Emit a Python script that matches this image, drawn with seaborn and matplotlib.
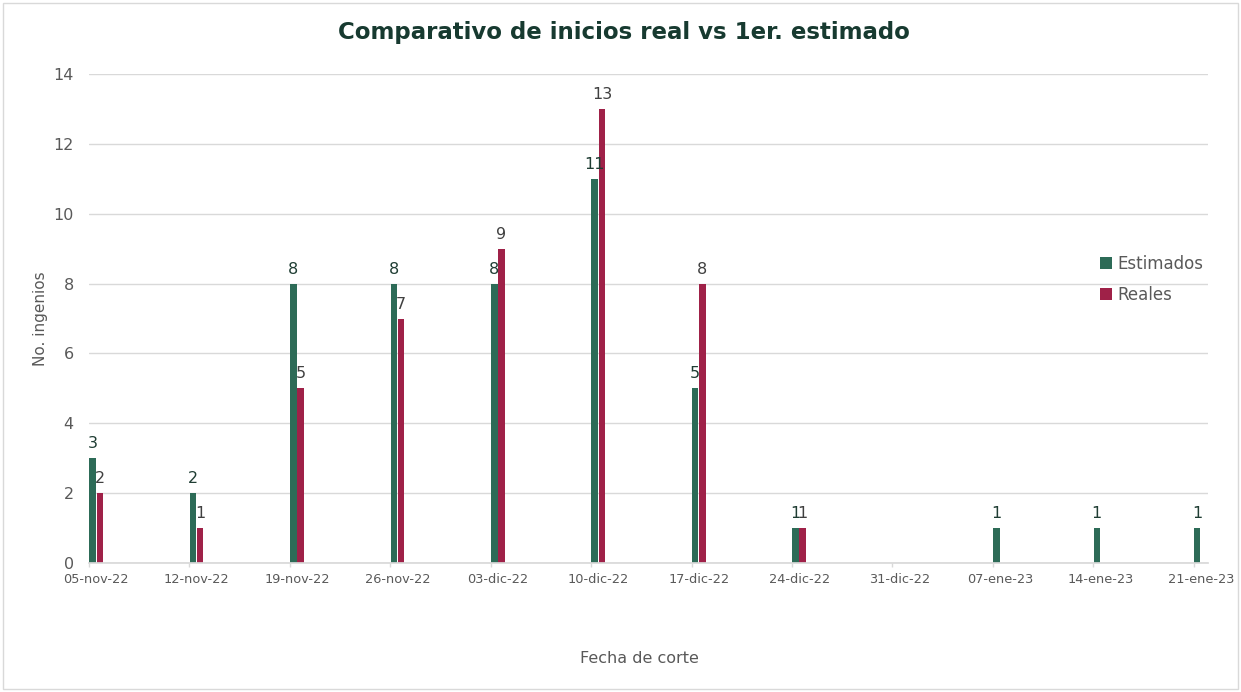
import pandas as pd
import numpy as np
import matplotlib
matplotlib.use("Agg")
import matplotlib.pyplot as plt
import seaborn as sns
from matplotlib.patches import Rectangle

# Datos
fechas = ["2022-11-05", "2022-11-12", "2022-11-19", "2022-11-26", "2022-12-03", "2022-12-10",
          "2022-12-17", "2022-12-24", "2022-12-31", "2023-01-07", "2023-01-14", "2023-01-21"]
etiquetas = ["05-nov-22", "12-nov-22", "19-nov-22", "26-nov-22", "03-dic-22", "10-dic-22",
             "17-dic-22", "24-dic-22", "31-dic-22", "07-ene-23", "14-ene-23", "21-ene-23"]
estimados = [3, 2, 8, 8, 8, 11, 5, 1, np.nan, 1, 1, 1]
reales = [2, 1, 5, 7, 9, 13, 8, 1, np.nan, np.nan, np.nan, np.nan]

VERDE = "#2d6b57"
GUINDA = "#9f2148"
GRIS = "#595959"

# dias desde la primera fecha de corte
dias = (pd.to_datetime(fechas) - pd.to_datetime(fechas[0])).days.values

df = pd.DataFrame({"dia": dias, "Estimados": estimados, "Reales": reales})
df = df.melt(id_vars="dia", var_name="serie", value_name="valor").dropna()
# el par de barras ocupa el dia de la fecha de corte
df["x"] = df["dia"] + 0.5

sns.set_theme(style="white")
plt.rcParams["font.family"] = ["DejaVu Sans"]

fig = plt.figure(figsize=(12.41, 6.92), dpi=100)
ax = fig.add_axes([89 / 1241, 1 - 563 / 692, (1208 - 89) / 1241, (563 - 74) / 692])

sns.barplot(data=df, x="x", y="valor", hue="serie", native_scale=True, width=1 / 7, gap=0.1,
            palette=[VERDE, GUINDA], saturation=1, errorbar=None, linewidth=0, ax=ax)

# etiquetas de datos
for cont, col in zip(ax.containers, ["#1f3d33", "#404040"]):
    ax.bar_label(cont, fmt="%g", padding=5, fontsize=11.5, color=col)

ax.set_xlim(dias[0], dias[-1] + 1)
# marcas en la fecha, etiqueta centrada en el dia
ax.set_xticks(dias, minor=True)
ax.set_xticks(dias + 0.5)
ax.set_xticklabels(etiquetas, fontsize=9.3, color=GRIS)
ax.set_ylim(0, 14)
ax.set_yticks(range(0, 15, 2))
ax.tick_params(axis="y", length=0, pad=11, labelsize=11.5, labelcolor=GRIS)
ax.tick_params(axis="x", which="major", length=0, pad=7)
ax.tick_params(axis="x", which="minor", bottom=True, length=3, width=1, color="#d9d9d9")

ax.yaxis.grid(True, color="#d9d9d9", linewidth=1)
ax.set_axisbelow(True)
for s in ["top", "right", "left"]:
    ax.spines[s].set_visible(False)
ax.spines["bottom"].set_color("#d9d9d9")

ax.set_ylabel("No. ingenios", fontsize=11, color=GRIS)
ax.yaxis.set_label_coords(-0.037, 0.5)
ax.set_xlabel("Fecha de corte", fontsize=11.5, color=GRIS)
ax.xaxis.set_label_coords(0.492, -0.18)

ax.legend(loc="center left", bbox_to_anchor=(0.89, 0.58), frameon=False, fontsize=12,
          handlelength=0.7, handleheight=0.7, labelspacing=0.75, handletextpad=0.35,
          labelcolor=GRIS, title=None)

fig.text(0.503, 1 - 32 / 692, "Comparativo de inicios real vs 1er. estimado", ha="center",
         va="center", fontsize=16.5, fontweight="bold", color="#173a30")

# borde gris del area del grafico
fig.patches.append(Rectangle((3 / 1241, 3 / 692), 1 - 6 / 1241, 1 - 6 / 692, transform=fig.transFigure,
                             fill=False, edgecolor="#d9d9d9", linewidth=1))

fig.savefig("out.png", dpi=100)
